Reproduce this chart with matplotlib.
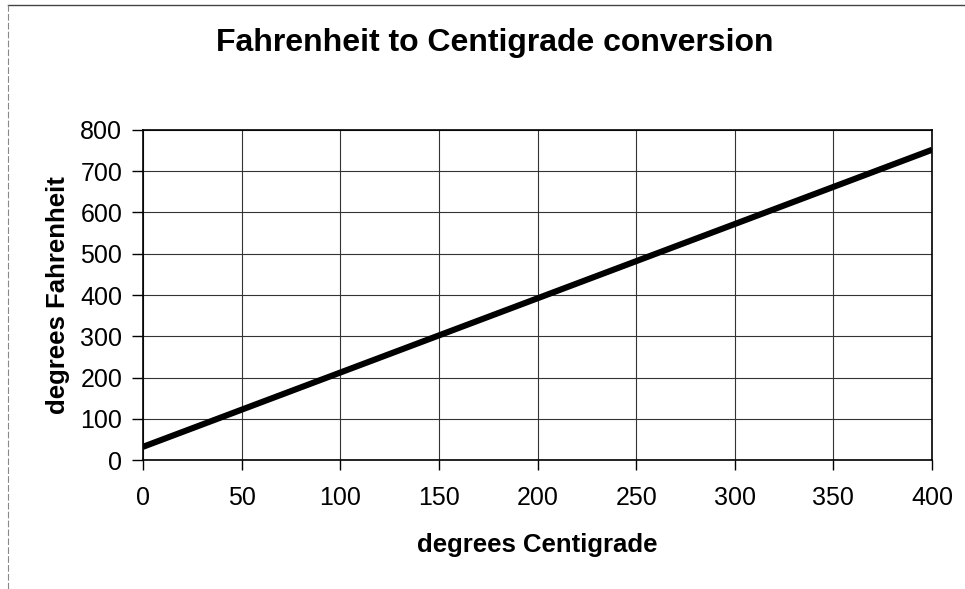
import matplotlib.pyplot as plt
from matplotlib.lines import Line2D

# values
centigrade = [0, 50, 100, 150, 200, 250, 300, 350, 400]
fahrenheit = [32, 122, 212, 302, 392, 482, 572, 662, 752]
x_ticks = [0, 50, 100, 150, 200, 250, 300, 350, 400]
y_ticks = [0, 100, 200, 300, 400, 500, 600, 700, 800]

plt.rcParams['font.family'] = ['Liberation Sans', 'DejaVu Sans']

fig = plt.figure(figsize=(9.65, 5.89), dpi=100)
ax = fig.add_axes([0.1482, 0.219, 0.8176, 0.5603])

ax.plot(centigrade, fahrenheit, color='black', linewidth=4.4, solid_capstyle='butt')

ax.set_xlim(0, 400)
ax.set_ylim(0, 800)
ax.set_xticks(x_ticks)
ax.set_yticks(y_ticks)
ax.grid(True, color='#333333', linewidth=0.8)
ax.set_axisbelow(True)

for side in ax.spines.values():
    side.set_color('black')
    side.set_linewidth(1.2)

ax.tick_params(axis='x', direction='out', length=7, width=1, pad=12, labelsize=18)
ax.tick_params(axis='y', direction='out', length=8, width=1, pad=7, labelsize=18)

ax.set_xlabel('degrees Centigrade', fontsize=18.5, fontweight='bold', va='center')
ax.set_ylabel('degrees Fahrenheit', fontsize=18.5, fontweight='bold', va='center')
ax.xaxis.set_label_coords(0.5, -0.2576)
ax.yaxis.set_label_coords(-0.108, 0.5)

fig.text(0.513, 0.927, 'Fahrenheit to Centigrade conversion', ha='center', va='center',
         fontsize=23, fontweight='bold')

# outer chart border (top and left edges visible in the scan)
fig.add_artist(Line2D([0.008, 1.0], [0.991, 0.991], transform=fig.transFigure,
                      color='#444444', linewidth=1))
fig.add_artist(Line2D([0.008, 0.008], [0.0, 0.991], transform=fig.transFigure,
                      color='#888888', linewidth=0.8, linestyle=(0, (6, 2))))

fig.savefig('out.png', dpi=100)
